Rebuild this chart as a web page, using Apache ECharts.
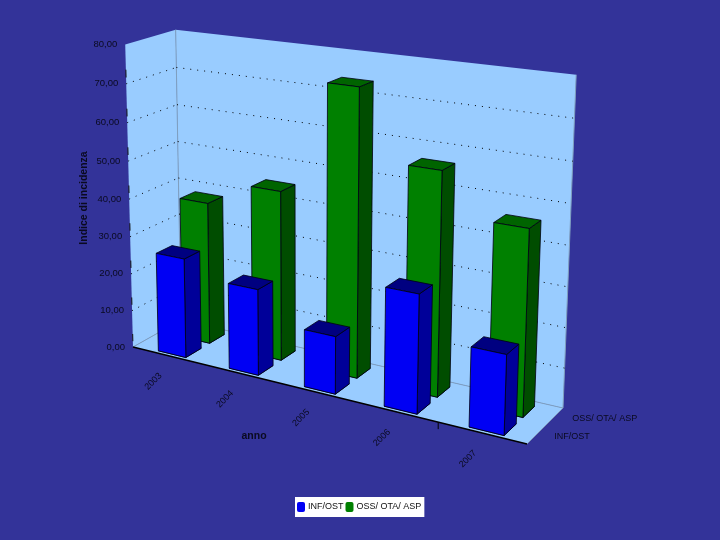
<!DOCTYPE html>
<html><head><meta charset="utf-8">
<script src="https://cdn.jsdelivr.net/npm/echarts@6/dist/echarts.min.js"></script>
<style>html,body{margin:0;background:#333399}#c{width:720px;height:540px}</style></head>
<body><div id="c"></div><script>
const years = ['2003','2004','2005','2006','2007'];
const infOst = [26.4, 22.4, 14.7, 29.6, 19.5];
const ossOta = [38, 44.5, 73.5, 56.2, 45.8];
const valueTicks = [0,10,20,30,40,50,60,70,80];
const valueTickLabels = ['0,00','10,00','20,00','30,00','40,00','50,00','60,00','70,00','80,00'];
const depthNames = ['INF/OST','OSS/ OTA/ ASP'];
const valueTitle = 'Indice di incidenza';
const catTitle = 'anno';

// calibration of the perspective box (floor corners and top corners)
const FL=[133,347],BL=[181,320],BR=[563,408],FR=[527,444];
const TFL=[124,44],TBL=[177,30],TBR=[576,75];
function homography(p00,p10,p11,p01){
  const dx1=p10[0]-p11[0],dx2=p01[0]-p11[0],sx=p00[0]-p10[0]+p11[0]-p01[0];
  const dy1=p10[1]-p11[1],dy2=p01[1]-p11[1],sy=p00[1]-p10[1]+p11[1]-p01[1];
  const den=dx1*dy2-dx2*dy1;
  const g=(sx*dy2-dx2*sy)/den,h=(dx1*sy-sx*dy1)/den;
  return [p10[0]-p00[0]+g*p10[0],p01[0]-p00[0]+h*p01[0],p00[0],
          p10[1]-p00[1]+g*p10[1],p01[1]-p00[1]+h*p01[1],p00[1],g,h,1];
}
const H=homography(FL,FR,BR,BL);
function floorH(u,d){return [H[0]*u+H[1]*d+H[2],H[3]*u+H[4]*d+H[5],H[6]*u+H[7]*d+H[8]];}
// vertical column of the projection, least squares through the top corners
const V=(function(){
  const rows=[];
  [[0,0,TFL],[0,1,TBL],[1,1,TBR]].forEach(function(c){
    const f=floorH(c[0],c[1]),t=c[2];
    rows.push([1,0,-t[0],t[0]*f[2]-f[0]]);
    rows.push([0,1,-t[1],t[1]*f[2]-f[1]]);
  });
  const A=[[0,0,0,0],[0,0,0,0],[0,0,0,0]];
  rows.forEach(function(r){for(let i=0;i<3;i++){for(let j=0;j<3;j++)A[i][j]+=r[i]*r[j];A[i][3]+=r[i]*r[3];}});
  for(let i=0;i<3;i++){let p=A[i][i];for(let j=i;j<4;j++)A[i][j]/=p;
    for(let k=0;k<3;k++)if(k!==i){let m=A[k][i];for(let j=i;j<4;j++)A[k][j]-=m*A[i][j];}}
  return [A[0][3],A[1][3],A[2][3]];
})();
function P(u,d,v){const f=floorH(u,d);const w=f[2]+v*V[2];return [(f[0]+v*V[0])/w,(f[1]+v*V[1])/w];}

const rows=[{d0:0.06,d1:0.38,front:'#0000f4',side:'#000099',top:'#000080'},
            {d0:0.56,d1:0.88,front:'#008000',side:'#004d00',top:'#006400'}];
const barFrac=0.395, barShift=0.005;

function poly(pts,fill,stroke){return {type:'polygon',shape:{points:pts},style:{fill:fill,stroke:stroke||'#001',lineWidth:stroke===null?0:0.8}};}
function line(a,b,stroke,w,dash){return {type:'line',shape:{x1:a[0],y1:a[1],x2:b[0],y2:b[1]},style:{stroke:stroke,lineWidth:w,lineDash:dash||null,fill:null}};}
function label(x,y,text,opt){return {type:'text',x:x,y:y,rotation:(opt&&opt.rot)||0,style:Object.assign({text:text,fill:'#0a0a20',font:'9px "Liberation Sans"',align:'center',verticalAlign:'middle'},opt&&opt.style)};}

function barItem(row){return function(params,api){
  const cs=params.coordSys,x=api.coord([api.value(0),0])[0],top=api.coord([api.value(0),api.value(1)])[1];
  const slot=api.size([1,0])[0],uc=(x-cs.x)/cs.width+barShift,hw=barFrac*slot/cs.width/2;
  const v=1-(top-cs.y)/cs.height,u0=uc-hw,u1=uc+hw,r=rows[row];
  return {type:'group',children:[
    poly([P(u0,r.d0,0),P(u1,r.d0,0),P(u1,r.d1,0),P(u0,r.d1,0)],r.side),
    poly([P(u1,r.d0,0),P(u1,r.d1,0),P(u1,r.d1,v),P(u1,r.d0,v)],r.side),
    poly([P(u0,r.d0,v),P(u1,r.d0,v),P(u1,r.d1,v),P(u0,r.d1,v)],r.top),
    poly([P(u0,r.d0,0),P(u1,r.d0,0),P(u1,r.d0,v),P(u0,r.d0,v)],r.front)
  ]};
};}

function frameItem(params,api){
  const cs=params.coordSys,ch=[];
  const wall='#99ccff',edge='#7f9fbf';
  ch.push(poly([P(0,0,0),P(1,0,0),P(1,1,0),P(0,1,0)],wall,null));
  ch.push(poly([P(0,0,0),P(0,1,0),P(0,1,1),P(0,0,1)],wall,null));
  ch.push(poly([P(0,1,0),P(1,1,0),P(1,1,1),P(0,1,1)],wall,null));
  ch.push(line(P(0,0,0),P(0,1,0),edge,1));
  ch.push(line(P(0,1,0),P(1,1,0),edge,1));
  ch.push(line(P(0,1,0),P(0,1,1),edge,1));
  ch.push(line(P(1,1,0),P(1,1,1),edge,1));
  ch.push(line(P(1,0,0),P(1,1,0),'#7a93b8',1));
  valueTicks.forEach(function(t,i){
    const y=api.coord([0,t])[1],v=1-(y-cs.y)/cs.height;
    if(t>0&&t<80){
      ch.push(line(P(0,0,v),P(0,1,v),'#000',1,[1,6]));
      ch.push(line(P(0,1,v),P(1,1,v),'#000',1,[1,6]));
    }
    if(t<80)ch.push(line(P(0,0,v+0.02),P(0,0,v+0.045),'#111',1));
    const p=P(0,0,v);
    ch.push(label(p[0]-8,p[1],valueTickLabels[i],{style:{align:'right',font:'9.5px "Liberation Sans"'}}));
  });
  ch.push(line(P(0,0,0),P(1,0,0),'#000',1.3));
  const tk=P(0.8,0,0);
  ch.push(line(tk,[tk[0],tk[1]+7],'#000',1));
  years.forEach(function(yr,i){
    const x=api.coord([i,0])[0],p=P((x-cs.x)/cs.width,0,0);
    ch.push(label(p[0]-14,p[1]+26,yr,{rot:Math.PI/4}));
  });
  depthNames.forEach(function(n,i){
    const p=P(1,rows[i].d0*0.5+rows[i].d1*0.5,0);
    ch.push(label(p[0]+19,p[1]+1,n,{style:{align:'left'}}));
  });
  ch.push(label(254,436,catTitle,{style:{font:'bold 10.5px "Liberation Sans"'}}));
  ch.push(label(84,198,valueTitle,{rot:Math.PI/2,style:{font:'bold 10.5px "Liberation Sans"'}}));
  return {type:'group',children:ch};
}

const chart=echarts.init(document.getElementById('c'),null,{renderer:'canvas'});
chart.setOption({
  animation:false,backgroundColor:'#333399',
  grid:{left:0,top:0,right:0,bottom:0},
  xAxis:{type:'category',data:years,show:false},
  yAxis:{type:'value',min:0,max:80,interval:10,show:false},
  legend:{left:295,top:497,padding:[5,3,5,2],itemGap:2,itemWidth:8,itemHeight:10,backgroundColor:'#fff',
    selectedMode:false,data:['INF/OST','OSS/ OTA/ ASP'],textStyle:{color:'#111',fontSize:9,fontFamily:'Liberation Sans',padding:[0,0,0,-2]}},
  series:[
    {type:'custom',name:'frame',silent:true,data:[[0,0]],renderItem:frameItem,z:1,clip:false},
    {type:'custom',name:'OSS/ OTA/ ASP',data:years.map((y,i)=>[i,ossOta[i]]),renderItem:barItem(1),itemStyle:{color:'#008000'},z:2,clip:false},
    {type:'custom',name:'INF/OST',data:years.map((y,i)=>[i,infOst[i]]),renderItem:barItem(0),itemStyle:{color:'#0000f4'},z:3,clip:false}
  ]
});
</script></body></html>
